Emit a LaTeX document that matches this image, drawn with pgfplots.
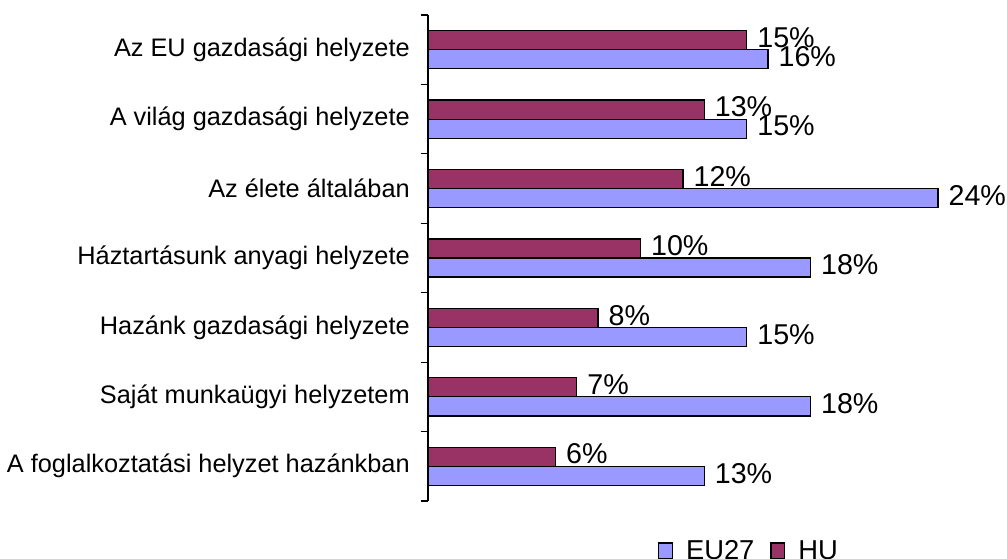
\documentclass[border=0pt]{standalone}
\usepackage{fontspec}
\setmainfont{Liberation Sans}
\usepackage{pgfplots}
\pgfplotsset{compat=1.18}
\definecolor{eu}{HTML}{9999FF}
\definecolor{hu}{HTML}{993366}
\begin{document}
\begin{tikzpicture}
\useasboundingbox (0,0) rectangle (755.25pt,419.25pt);
\begin{axis}[
 at={(321pt,43.5pt)}, anchor=south west,
 scale only axis, width=382.5pt, height=364.5pt,
 xmin=0, xmax=24, ymin=-0.5, ymax=6.5,
 axis y line*=left, axis x line=none,
 xbar, bar width=0.275,
 ytick={0,...,6},
 yticklabels={A foglalkoztatási helyzet hazánkban, Saját munkaügyi helyzetem, Hazánk gazdasági helyzete, Háztartásunk anyagi helyzete, Az élete általában, A világ gazdasági helyzete, Az EU gazdasági helyzete},
 minor ytick={-0.5,0.5,...,6.5},
 major tick length=0pt, minor tick length=5.5pt, tick align=outside,
 every tick/.style={black, line width=0.8pt},
 y axis line style={line width=0.8pt},
 yticklabel style={font=\fontsize{19}{21}\selectfont, inner sep=0pt, xshift=-13.5pt},
 clip=false,
 point meta=x,
 nodes near coords={\pgfmathprintnumber[assume math mode=true]{\pgfplotspointmeta}\%},
 nodes near coords style={font=\fontsize{21.5}{24}\selectfont, anchor=west, inner sep=0pt, xshift=7.5pt, yshift=2pt, black},
 legend columns=2,
 legend style={draw=none, at={(0.443,-0.103)}, anchor=west, font=\fontsize{20.5}{22}\selectfont,
   /tikz/every odd column/.append style={column sep=8pt},
   /tikz/every even column/.append style={column sep=10pt}},
 legend image code/.code={\draw[#1] (0pt,-6pt) rectangle (10pt,6pt);},
]
\addplot[fill=eu, draw=black, line width=0.9pt, bar shift=-0.1375] coordinates {(13,0) (18,1) (15,2) (18,3) (24,4) (15,5) (16,6)};
\addplot[fill=hu, draw=black, line width=0.9pt, bar shift=0.1375] coordinates {(6,0) (7,1) (8,2) (10,3) (12,4) (13,5) (15,6)};
\legend{EU27,HU}
\end{axis}
\end{tikzpicture}
\end{document}
